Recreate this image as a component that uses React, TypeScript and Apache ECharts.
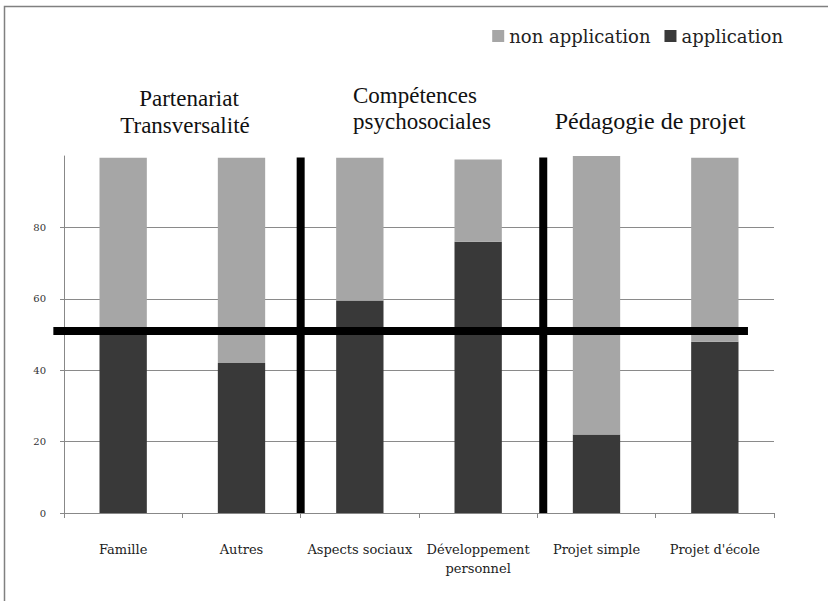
import React, { useEffect, useRef } from 'react';
import * as echarts from 'echarts';

const categories = ['Famille', 'Autres', 'Aspects sociaux', 'Développement personnel', 'Projet simple', "Projet d'école"];
const application = [50, 42, 59.5, 76, 22, 48];
const nonApplication = [49.5, 57.5, 40, 23, 78, 51.5];
const thresholdValue = 51;
const seriesNames = ['non application', 'application'];

const SERIF = 'DejaVu Serif, Liberation Serif, serif';
const TITLE = 'Liberation Serif';

export default function App() {
  const ref = useRef<HTMLDivElement>(null);
  useEffect(() => {
    const chart = echarts.init(ref.current!, null, { renderer: 'svg' });
    chart.setOption({
      animation: false,
      backgroundColor: '#ffffff',
      grid: { left: 64, right: 54, top: 156, bottom: 88 },
      legend: {
        data: seriesNames,
        top: 22,
        right: 40,
        itemWidth: 12,
        itemHeight: 12,
        itemGap: 14,
        icon: 'rect',
        textStyle: { fontFamily: SERIF, fontSize: 18, color: '#222' },
      },
      xAxis: {
        type: 'category',
        data: categories,
        axisLine: { lineStyle: { color: '#888', width: 1 } },
        axisTick: { show: true, length: 5, lineStyle: { color: '#888' } },
        axisLabel: {
          interval: 0,
          margin: 27,
          fontFamily: SERIF,
          fontSize: 13,
          color: '#222',
          lineHeight: 19,
          formatter: (v: string) => (v === 'Développement personnel' ? 'Développement\npersonnel' : v),
        },
      },
      yAxis: {
        type: 'value',
        min: 0,
        max: 100,
        interval: 20,
        axisLine: { show: true, lineStyle: { color: '#888', width: 1 } },
        axisTick: { show: true, length: 4, lineStyle: { color: '#888' } },
        axisLabel: {
          margin: 18,
          fontFamily: SERIF,
          fontSize: 10,
          color: '#333',
          showMaxLabel: false,
          formatter: (v: number) => (v >= 100 ? '' : String(v)),
        },
        splitLine: { show: true, showMaxLine: false, showMinLine: false, lineStyle: { color: '#8a8a8a', width: 1 } },
      },
      series: [
        {
          name: 'application',
          type: 'bar',
          stack: 'total',
          barWidth: '40%',
          data: application,
          itemStyle: { color: '#393939' },
        },
        {
          name: 'non application',
          type: 'bar',
          stack: 'total',
          barWidth: '40%',
          data: nonApplication,
          itemStyle: { color: '#a6a6a6' },
        },
      ],
    });

    const xs = categories.map((c) => chart.convertToPixel({ xAxisIndex: 0 }, c) as number);
    const band = xs[1] - xs[0];
    const y0 = chart.convertToPixel({ yAxisIndex: 0 }, 0) as number;
    const yTop = chart.convertToPixel({ yAxisIndex: 0 }, 99.6) as number;
    const yT = chart.convertToPixel({ yAxisIndex: 0 }, thresholdValue) as number;
    const v1 = (xs[1] + xs[2]) / 2;
    const v2 = (xs[3] + xs[4]) / 2 + band * 0.05;
    const hl = xs[0] - band * 0.59;
    const hr = xs[5] + band * 0.28;

    const titleStyle = { fontFamily: TITLE, fontSize: 23, fill: '#111' };

    chart.setOption({
      graphic: [
        { type: 'rect', z: 0, silent: true, shape: { x: 4.5, y: 6.5, width: 900, height: 700 }, style: { fill: 'none', stroke: '#808080', lineWidth: 1.5 } },
        { type: 'line', z: 100, shape: { x1: v1, y1: yTop, x2: v1, y2: y0 }, style: { stroke: '#000', lineWidth: 8 } },
        { type: 'line', z: 100, shape: { x1: v2, y1: yTop, x2: v2, y2: y0 }, style: { stroke: '#000', lineWidth: 8 } },
        { type: 'line', z: 101, shape: { x1: hl, y1: yT, x2: hr, y2: yT }, style: { stroke: '#000', lineWidth: 8 } },
        { type: 'text', x: 189, y: 98, style: { ...titleStyle, text: 'Partenariat', textAlign: 'center', textVerticalAlign: 'middle' } },
        { type: 'text', x: 185, y: 125.5, style: { ...titleStyle, text: 'Transversalité', textAlign: 'center', textVerticalAlign: 'middle' } },
        { type: 'text', x: 353, y: 95.5, style: { ...titleStyle, text: 'Compétences', textAlign: 'left', textVerticalAlign: 'middle' } },
        { type: 'text', x: 353, y: 121, style: { ...titleStyle, text: 'psychosociales', textAlign: 'left', textVerticalAlign: 'middle' } },
        { type: 'text', x: 650, y: 121, style: { ...titleStyle, fontSize: 24, text: 'Pédagogie de projet', textAlign: 'center', textVerticalAlign: 'middle' } },
      ],
    });
    return () => chart.dispose();
  }, []);
  return <div ref={ref} style={{ position: 'fixed', left: 0, top: 0, width: 828, height: 601, background: '#fff' }} />;
}
